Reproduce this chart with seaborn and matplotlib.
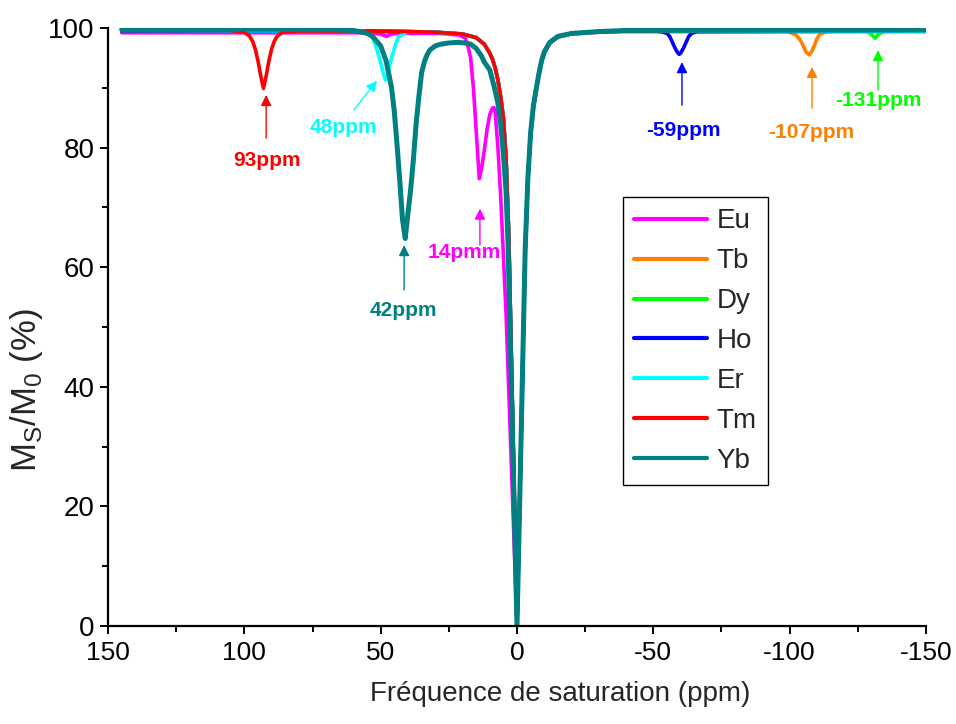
"""
Z-spectra (CEST) of the Ln complexes: Ms/M0 versus saturation frequency
"""

import matplotlib
matplotlib.use("Agg")
import matplotlib.pyplot as plt
import seaborn as sns
from matplotlib.ticker import MultipleLocator

sns.set_style("ticks")
plt.rcParams['font.family'] = ['Liberation Sans', 'DejaVu Sans']
plt.rcParams['mathtext.fontset'] = 'custom'
plt.rcParams['mathtext.rm'] = 'Liberation Sans'
plt.rcParams['axes.unicode_minus'] = False

# ---- data (ppm, Ms/M0 %) ----
SPECIES = ['Eu', 'Tb', 'Dy', 'Ho', 'Er', 'Tm', 'Yb']
COLORS = ['#FF00FF', '#FF8000', '#00FF00', '#0000FF', '#00FFFF', '#FF0000', '#008080']

# bulk water saturation, shared by Tb, Dy, Ho, Er, Tm
WATER_PPM = [40, 30, 20, 15, 12, 10, 9, 8, 7, 6, 5, 4, 3, 0,
             -3, -4, -5, -6, -7, -8, -9, -10, -12, -15, -20, -30, -40]
WATER_VAL = [99.4, 99.3, 99.0, 98.4, 97.3, 95.8, 94.8, 93.3, 91.3, 88.5, 85.0, 78.0, 65.0, 0.0,
             63.0, 75.0, 82.5, 87.0, 89.7, 92.3, 94.5, 96.0, 97.6, 98.6, 99.1, 99.4, 99.5]

EU_PPM = [145, 55, 50, 48, 46, 42, 30, 25, 21, 19, 18, 17, 16, 15, 14, 13.8, 13, 12, 11, 10,
          9, 8.5, 8, 7, 6, 5, 4, 0, -3, -4, -5, -6, -7, -8, -9, -10, -12, -15, -20, -30, -40, -150]
EU_VAL = [99.2, 99.2, 99.0, 98.6, 99.0, 99.1, 99.1, 99.0, 98.8, 98.3, 97.0, 95.0, 90.0, 83.0, 76.0, 74.8,
          76.5, 79.5, 83.0, 85.5, 86.6, 86.7, 86.0, 80.0, 72.0, 62.0, 52.0, 0.0, 62.0, 74.5,
          82.0, 86.5, 89.3, 92.0, 94.2, 95.8, 97.4, 98.5, 99.0, 99.3, 99.4, 99.4]

TB_LEFT_PPM = [145, 60]
TB_LEFT_VAL = [99.5, 99.5]
TB_RIGHT_PPM = [-60, -98, -100, -102, -103, -104, -105, -106, -107.2, -108, -109, -110, -111, -113, -116, -150]
TB_RIGHT_VAL = [99.5, 99.5, 99.3, 98.9, 98.5, 97.9, 97.0, 96.0, 95.5, 96.0, 97.0, 98.2, 98.9, 99.3, 99.5, 99.5]

DY_LEFT_PPM = [145, 60]
DY_LEFT_VAL = [99.5, 99.5]
DY_RIGHT_PPM = [-60, -127, -129, -130, -131.3, -132.5, -134, -136, -150]
DY_RIGHT_VAL = [99.5, 99.5, 99.3, 98.9, 98.3, 98.9, 99.3, 99.5, 99.5]

HO_LEFT_PPM = [145, 60]
HO_LEFT_VAL = [99.5, 99.5]
HO_RIGHT_PPM = [-50, -53, -55, -56, -57, -58, -59, -59.5, -60, -61, -62, -63, -64, -66, -150]
HO_RIGHT_VAL = [99.5, 99.4, 99.1, 98.6, 97.6, 96.6, 95.8, 95.6, 95.8, 96.6, 97.6, 98.6, 99.1, 99.4, 99.5]

ER_LEFT_PPM = [145, 56, 54, 53, 52, 51, 50, 49, 48.2, 47.5, 46.5, 45.5, 44.5, 43.5, 42]
ER_LEFT_VAL = [99.6, 99.5, 99.1, 98.5, 97.3, 95.8, 94.2, 92.4, 91.3, 92.2, 94.2, 95.8, 97.3, 98.5, 98.9]
ER_RIGHT_PPM = [-60, -150]
ER_RIGHT_VAL = [99.5, 99.5]

TM_LEFT_PPM = [145, 105, 100, 98, 97, 96, 95, 94, 93, 92, 91, 90, 89, 88, 86, 80, 60]
TM_LEFT_VAL = [99.6, 99.6, 99.3, 98.6, 97.8, 96.5, 94.5, 92.0, 89.9, 92.0, 94.5, 96.5, 97.8, 98.6, 99.3, 99.5, 99.5]
TM_RIGHT_PPM = [-60, -150]
TM_RIGHT_VAL = [99.6, 99.7]

YB_PPM = [145, 70, 60, 55, 53, 50, 48, 46, 45, 44, 43, 42, 41, 40, 39, 38, 37, 36, 35, 34,
          33, 32, 30, 28, 25, 22, 19, 17, 15, 13, 12, 10, 9, 8, 7, 6, 5, 4, 3.3, 0,
          -3, -4, -5, -6, -7, -8, -9, -10, -12, -15, -20, -30, -40, -150]
YB_VAL = [99.8, 99.8, 99.6, 99.1, 98.6, 97.0, 94.5, 90.0, 86.0, 80.5, 74.5, 68.0, 64.8, 69.0, 73.0,
          78.0, 84.0, 88.5, 92.5, 94.3, 95.5, 96.3, 97.0, 97.3, 97.5, 97.6, 97.5, 97.3, 96.6, 95.3,
          94.3, 93.0, 91.3, 89.5, 87.4, 84.0, 79.0, 72.5, 64.0, 0.0,
          63.0, 75.0, 82.5, 87.0, 89.7, 92.3, 94.5, 96.0, 97.6, 98.6, 99.1, 99.4, 99.6, 99.7]

CURVES = {
    'Eu': (EU_PPM, EU_VAL),
    'Tb': (TB_LEFT_PPM + WATER_PPM + TB_RIGHT_PPM, TB_LEFT_VAL + WATER_VAL + TB_RIGHT_VAL),
    'Dy': (DY_LEFT_PPM + WATER_PPM + DY_RIGHT_PPM, DY_LEFT_VAL + WATER_VAL + DY_RIGHT_VAL),
    'Ho': (HO_LEFT_PPM + WATER_PPM + HO_RIGHT_PPM, HO_LEFT_VAL + WATER_VAL + HO_RIGHT_VAL),
    'Er': (ER_LEFT_PPM + WATER_PPM + ER_RIGHT_PPM, ER_LEFT_VAL + WATER_VAL + ER_RIGHT_VAL),
    'Tm': (TM_LEFT_PPM + WATER_PPM + TM_RIGHT_PPM, TM_LEFT_VAL + WATER_VAL + TM_RIGHT_VAL),
    'Yb': (YB_PPM, YB_VAL),
}

# peak labels: text, colour index, text position, arrow tail, arrow head
LABELS = [
    ('93ppm', 5, (91.7, 77.9), (92.0, 81.6), (92.0, 88.8)),
    ('48ppm', 4, (63.8, 83.4), (59.8, 86.3), (51.4, 91.2)),
    ('42ppm', 6, (41.8, 52.8), (41.4, 56.2), (41.4, 63.7)),
    ('14pmm', 0, (19.4, 62.5), (13.6, 63.7), (13.6, 69.8)),
    ('-59ppm', 3, (-60.9, 82.8), (-60.5, 87.1), (-60.5, 94.3)),
    ('-107ppm', 1, (-107.8, 82.6), (-108.2, 86.6), (-108.2, 93.5)),
    ('-131ppm', 2, (-132.4, 87.8), (-132.4, 89.6), (-132.4, 96.3)),
]

fig = plt.figure(figsize=(9.56, 7.24), dpi=100)
ax = fig.add_axes([0.113, 0.1354, 0.8556, 0.8259])

for name, color in zip(SPECIES, COLORS):
    ppm, val = CURVES[name]
    lw = 3.6 if name == 'Yb' else 2.6
    sns.lineplot(x=ppm, y=val, ax=ax, color=color, linewidth=lw, label=name,
                 estimator=None, sort=False)

for text, ci, tpos, tail, head in LABELS:
    c = COLORS[ci]
    ax.annotate('', xy=head, xytext=tail,
                arrowprops=dict(arrowstyle='-|>', color=c, lw=1.0, shrinkA=0, shrinkB=0,
                                mutation_scale=16))
    ax.text(tpos[0], tpos[1], text, color=c, fontsize=15, fontweight='bold',
            ha='center', va='center')

ax.set_xlim(150, -150)
ax.set_ylim(0, 100)
ax.xaxis.set_major_locator(MultipleLocator(50))
ax.xaxis.set_minor_locator(MultipleLocator(25))
ax.yaxis.set_major_locator(MultipleLocator(20))
ax.yaxis.set_minor_locator(MultipleLocator(10))

for side in ['top', 'right']:
    ax.spines[side].set_visible(False)
for side in ['left', 'bottom']:
    ax.spines[side].set_linewidth(1.6)
    ax.spines[side].set_color('black')

ax.tick_params(which='major', direction='out', length=6, width=1.4, colors='black', labelsize=20)
ax.tick_params(which='minor', direction='out', length=4, width=1.4, colors='black')
ax.tick_params(axis='x', which='major', labelsize=19, pad=5)

ax.set_xlabel('Fréquence de saturation (ppm)', fontsize=20)
ax.set_ylabel(r'M$_\mathregular{S}$/M$_\mathregular{0}$ (%)', fontsize=25)
ax.xaxis.set_label_coords(0.553, -0.092)
ax.yaxis.set_label_coords(-0.077, 0.395)

leg = ax.legend(loc='upper left', bbox_to_anchor=(0.613, 0.740), fontsize=20,
                frameon=True, fancybox=False, edgecolor='black', framealpha=1,
                handlelength=2.6, labelspacing=0.5, borderpad=0.4, handletextpad=0.35)
leg.get_frame().set_linewidth(1.0)
for h in leg.get_lines():
    h.set_linewidth(3.0)

fig.savefig('out.png', dpi=100)
